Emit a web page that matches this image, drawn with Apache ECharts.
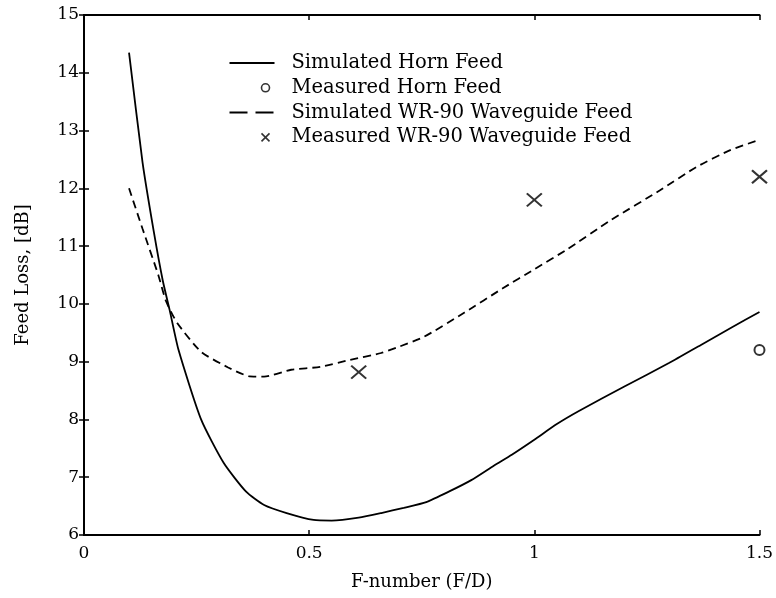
<!DOCTYPE html>
<html>
<head>
<meta charset="utf-8">
<script src="https://cdn.jsdelivr.net/npm/echarts@6/dist/echarts.min.js"></script>
<style>
  html, body { margin: 0; padding: 0; background: #fff; }
  #chart { width: 776px; height: 598px; }
</style>
</head>
<body>
<div id="chart"></div>
<script>
// Feed loss versus F-number for a horn feed and a WR-90 waveguide feed

const xTicks = [0, 0.5, 1, 1.5];
const yTicks = [6, 7, 8, 9, 10, 11, 12, 13, 14, 15];

// Simulated horn feed
const hornSimF = [0.10, 0.13, 0.155, 0.175, 0.19, 0.21, 0.26, 0.31, 0.36, 0.40, 0.45, 0.51, 0.55, 0.61, 0.66, 0.71, 0.76, 0.81, 0.86, 0.91, 0.95, 1.00, 1.05, 1.10, 1.20, 1.30, 1.37, 1.44, 1.50];
const hornSimLoss = [14.35, 12.45, 11.25, 10.4, 9.9, 9.2, 8.0, 7.25, 6.75, 6.52, 6.38, 6.26, 6.25, 6.3, 6.38, 6.47, 6.57, 6.75, 6.95, 7.2, 7.39, 7.65, 7.92, 8.15, 8.57, 8.98, 9.29, 9.6, 9.86];

// Measured horn feed
const hornMeasF = [1.5];
const hornMeasLoss = [9.2];

// Simulated WR-90 waveguide feed
const wgSimF = [0.10, 0.13, 0.165, 0.182, 0.207, 0.26, 0.32, 0.365, 0.40, 0.46, 0.525, 0.59, 0.66, 0.70, 0.755, 0.845, 0.93, 1.00, 1.07, 1.17, 1.28, 1.36, 1.435, 1.50];
const wgSimLoss = [12.0, 11.3, 10.5, 10.05, 9.67, 9.17, 8.9, 8.75, 8.74, 8.86, 8.91, 9.03, 9.15, 9.26, 9.43, 9.85, 10.27, 10.6, 10.93, 11.45, 11.97, 12.37, 12.66, 12.84];

// Measured WR-90 waveguide feed
const wgMeasF = [0.61, 1.0, 1.5];
const wgMeasLoss = [8.82, 11.8, 12.2];

const seriesNames = [
  'Simulated Horn Feed',
  'Measured Horn Feed',
  'Simulated WR-90 Waveguide Feed',
  'Measured WR-90 Waveguide Feed'
];

const FONT = 'DejaVu Serif';
const zip = (xs, ys) => xs.map((x, i) => [x, ys[i]]);

const frameLine = { show: true, lineStyle: { color: '#000', width: 2 } };
const innerTick = { show: true, inside: true, length: 5, lineStyle: { color: '#000', width: 1.5 } };

const xBase = {
  type: 'value',
  min: xTicks[0],
  max: xTicks[xTicks.length - 1],
  interval: xTicks[1] - xTicks[0],
  axisLine: frameLine,
  axisTick: innerTick,
  splitLine: { show: false }
};
const yBase = {
  type: 'value',
  min: yTicks[0],
  max: yTicks[yTicks.length - 1],
  interval: yTicks[1] - yTicks[0],
  axisLine: frameLine,
  axisTick: innerTick,
  splitLine: { show: false }
};

// Legend line entries show only the line sample, no dot
const hiddenDot = { color: 'rgba(0,0,0,0)', borderWidth: 0, opacity: 0 };
// Legend marker entries: the two leading move-tos span the full 45x10 icon box,
// so the ring / cross is drawn near the right end of the sample area
const legendRing = 'path://M0,0M45,10M32,5A4,4 0 1 1 40,5A4,4 0 1 1 32,5Z';
const legendCross = 'path://M0,0M45,10M32,1L40,9M40,1L32,9';

const chart = echarts.init(document.getElementById('chart'), null, { renderer: 'canvas' });

chart.setOption({
  animation: false,
  backgroundColor: '#fff',
  grid: { left: 84, right: 14, top: 15, bottom: 63, containLabel: false },
  legend: {
    data: [
      { name: seriesNames[0], itemStyle: hiddenDot },
      { name: seriesNames[1], icon: legendRing, itemStyle: { color: 'none', borderColor: '#000', borderWidth: 1.6 } },
      { name: seriesNames[2], itemStyle: hiddenDot, lineStyle: { type: [18, 8] } },
      { name: seriesNames[3], icon: legendCross, itemStyle: { color: 'none', borderColor: '#000', borderWidth: 1.6 } }
    ],
    orient: 'vertical',
    left: 227,
    top: 53,
    padding: 0,
    itemWidth: 45,
    itemHeight: 10,
    itemGap: 4.8,
    selectedMode: false,
    textStyle: { fontFamily: FONT, fontSize: 19.5, color: '#000', lineHeight: 20, padding: [0, 0, 0, 12] }
  },
  xAxis: [
    Object.assign({}, xBase, {
      position: 'bottom',
      axisLabel: { show: true, fontFamily: FONT, fontSize: 17, color: '#000', margin: 10 },
      name: 'F-number (F/D)',
      nameLocation: 'middle',
      nameGap: 38,
      nameTextStyle: { fontFamily: FONT, fontSize: 18, color: '#000' }
    }),
    Object.assign({}, xBase, { position: 'top', axisLabel: { show: false } })
  ],
  yAxis: [
    Object.assign({}, yBase, {
      position: 'left',
      axisLabel: { show: true, fontFamily: FONT, fontSize: 17, color: '#000', margin: 5 },
      name: 'Feed Loss, [dB]',
      nameLocation: 'middle',
      nameGap: 52,
      nameTextStyle: { fontFamily: FONT, fontSize: 18, color: '#000' }
    }),
    Object.assign({}, yBase, { position: 'right', axisLabel: { show: false } })
  ],
  series: [
    {
      name: seriesNames[0],
      type: 'line',
      xAxisIndex: 0, yAxisIndex: 0,
      data: zip(hornSimF, hornSimLoss),
      showSymbol: false,
      symbol: 'none',
      smooth: 0.2,
      lineStyle: { color: '#000', width: 1.8, type: 'solid' },
      itemStyle: { color: '#000' }
    },
    {
      name: seriesNames[1],
      type: 'scatter',
      xAxisIndex: 0, yAxisIndex: 0,
      data: zip(hornMeasF, hornMeasLoss),
      symbol: 'emptyCircle',
      symbolSize: 10,
      itemStyle: { color: '#000', borderColor: '#000', borderWidth: 1.8 }
    },
    {
      name: seriesNames[2],
      type: 'line',
      xAxisIndex: 0, yAxisIndex: 0,
      data: zip(wgSimF, wgSimLoss),
      showSymbol: false,
      symbol: 'none',
      smooth: 0.2,
      lineStyle: { color: '#000', width: 1.8, type: [8, 5] },
      itemStyle: { color: '#000' }
    },
    {
      name: seriesNames[3],
      type: 'scatter',
      xAxisIndex: 0, yAxisIndex: 0,
      data: zip(wgMeasF, wgMeasLoss),
      symbol: 'path://M0,0L10,10M10,0L0,10',
      symbolSize: [15, 13],
      itemStyle: { color: 'none', borderColor: '#000', borderWidth: 2 }
    }
  ]
});
</script>
</body>
</html>
